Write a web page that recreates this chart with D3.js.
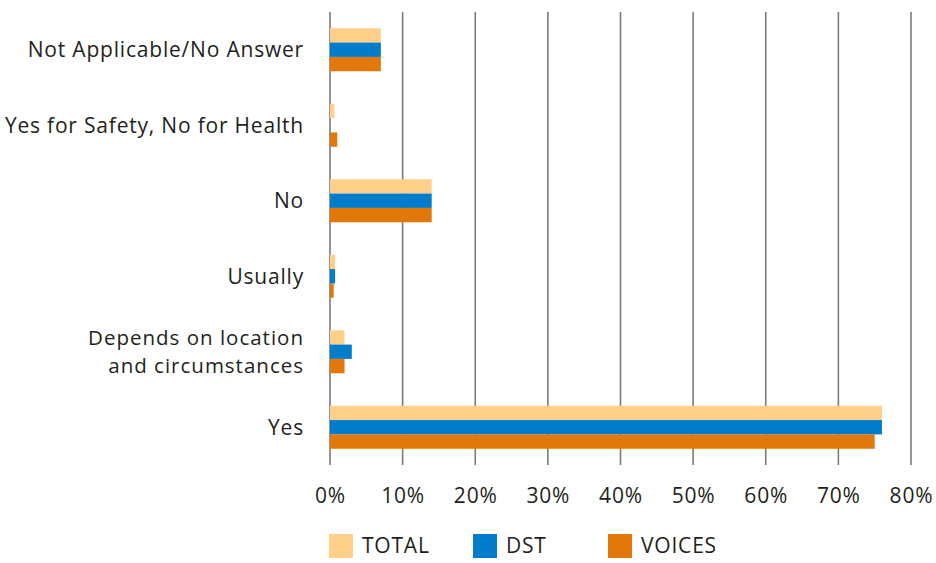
<!DOCTYPE html>
<html>
<head>
<meta charset="utf-8">
<script src="https://cdn.jsdelivr.net/npm/d3@7"></script>
<style>
  html, body { margin: 0; padding: 0; background: #fff; }
  svg text { font-family: "Open Sans", Lato, sans-serif; fill: #231f20; }
</style>
</head>
<body>
<svg id="chart" width="936" height="563"></svg>
<script>
// Answer categories, top to bottom
const categories = [
  "Not Applicable/No Answer",
  "Yes for Safety, No for Health",
  "No",
  "Usually",
  "Depends on location\nand circumstances",
  "Yes"
];
const seriesNames = ["TOTAL", "DST", "VOICES"];
const totalValues  = [7, 0.6, 14, 0.7, 2, 76];
const dstValues    = [7, 0, 14, 0.7, 3, 76];
const voicesValues = [7, 1, 14, 0.5, 2, 75];
const xTicks = [0, 10, 20, 30, 40, 50, 60, 70, 80];
const colors = ["#ffd08a", "#007ccb", "#e2770a"];

const seriesValues = [totalValues, dstValues, voicesValues];
const rows = categories.map((c, i) => ({
  category: c,
  values: seriesNames.map((s, j) => ({ series: s, value: seriesValues[j][i] }))
}));

const svg = d3.select("#chart");
const margin = { top: 12, right: 25, bottom: 98, left: 330 };
const height = 563 - margin.top - margin.bottom;
const fontSize = 21;
const spacing = "0.8px";

const x = d3.scaleLinear().domain([0, 80]).range([0, 581]);
const y = d3.scaleBand().domain(categories).range([0, height]).paddingInner(0.43).paddingOuter(0.215);
const ySub = d3.scaleBand().domain(seriesNames).range([0, y.bandwidth()]);
const color = d3.scaleOrdinal().domain(seriesNames).range(colors);

const g = svg.append("g").attr("transform", `translate(${margin.left},${margin.top})`);

// Vertical gridlines
g.selectAll("line.grid")
  .data(xTicks)
  .join("line")
  .attr("class", "grid")
  .attr("x1", d => x(d)).attr("x2", d => x(d))
  .attr("y1", 0).attr("y2", height)
  .attr("stroke", "#7a7a7a")
  .attr("stroke-width", 1.6);

// Bars
const groups = g.selectAll("g.row")
  .data(rows)
  .join("g")
  .attr("class", "row")
  .attr("transform", d => `translate(0,${y(d.category)})`);

groups.selectAll("rect")
  .data(d => d.values)
  .join("rect")
  .attr("x", x(0))
  .attr("y", d => ySub(d.series))
  .attr("height", ySub.bandwidth())
  .attr("width", d => x(d.value) - x(0))
  .attr("fill", d => color(d.series));

// Category labels (multi-line labels get a slightly smaller size)
const labels = g.selectAll("text.cat")
  .data(categories)
  .join("text")
  .attr("class", "cat")
  .attr("text-anchor", "end")
  .attr("font-size", d => d.includes("\n") ? 20.5 : fontSize)
  .attr("letter-spacing", d => d.includes("\n") ? "1px" : spacing)
  .attr("x", -26)
  .attr("y", d => y(d) + y.bandwidth() / 2);

labels.each(function(d) {
  const lines = d.split("\n");
  const t = d3.select(this);
  const lh = 28;
  lines.forEach((ln, i) => {
    t.append("tspan")
      .attr("x", -26)
      .attr("y", y(d) + y.bandwidth() / 2 + (i - (lines.length - 1) / 2) * lh)
      .attr("dy", "0.35em")
      .text(ln);
  });
});

// X axis tick labels
const xAxis = d3.axisBottom(x).tickValues(xTicks).tickFormat(d => d + "%").tickSize(0).tickPadding(0);
const axisG = g.append("g")
  .attr("transform", `translate(0,${height + 23})`)
  .call(xAxis);
axisG.select(".domain").remove();
axisG.selectAll("text")
  .attr("font-size", fontSize)
  .attr("letter-spacing", spacing)
  .attr("font-family", "'Open Sans', sans-serif")
  .attr("fill", "#231f20");

// Legend
const legendX = [329, 473, 608];
const legend = svg.append("g").attr("transform", "translate(0,534)");
const items = legend.selectAll("g")
  .data(seriesNames)
  .join("g")
  .attr("transform", (d, i) => `translate(${legendX[i]},0)`);
items.append("rect").attr("width", 24).attr("height", 24).attr("fill", d => color(d));
items.append("text")
  .attr("x", 33).attr("y", 12).attr("dy", "0.35em")
  .attr("font-size", fontSize)
  .attr("letter-spacing", spacing)
  .text(d => d);
</script>
</body>
</html>
